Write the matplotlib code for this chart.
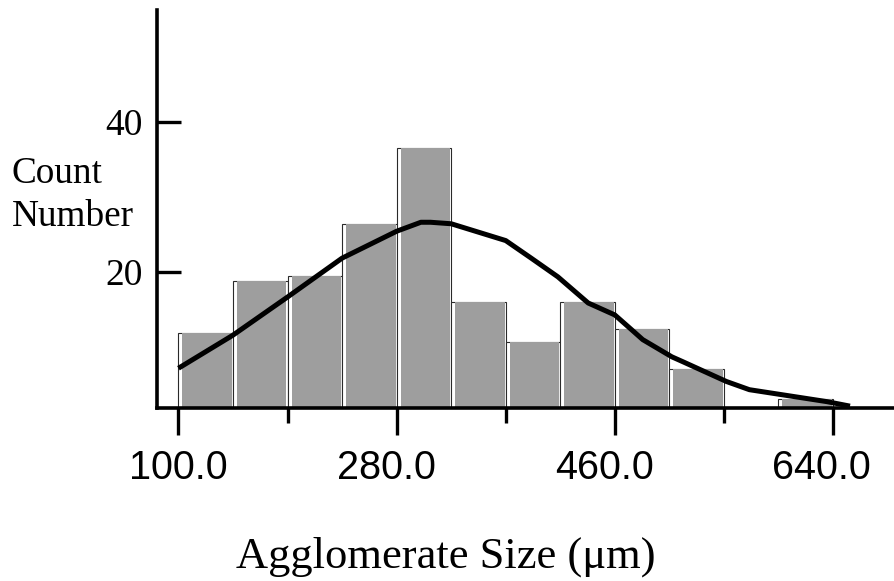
import numpy as np
import matplotlib
matplotlib.use("Agg")
import matplotlib.pyplot as plt
from matplotlib.ticker import FixedLocator
from matplotlib.transforms import ScaledTranslation

# ---- data ----
bin_left = [100, 145, 190, 235, 280, 325, 370, 415, 460, 505, 550, 595]
bin_width = 45
counts = [11.8, 18.8, 19.4, 26.4, 36.6, 15.9, 10.6, 15.9, 12.3, 7.0, 0.0, 2.9]

fit_x = [100, 145, 190, 235, 280, 300, 308, 325, 370, 391, 413, 438, 460,
         474, 483, 507, 516, 552, 571, 599, 635, 654]
fit_y = [7.07, 11.5, 16.6, 21.8, 25.4, 26.6, 26.6, 26.4, 24.15, 21.8, 19.3,
         15.8, 14.2, 12.2, 10.9, 8.6, 7.95, 5.3, 4.2, 3.5, 2.6, 2.0]

x_major = [100, 280, 460, 640]
x_major_labels = ["100.0", "280.0", "460.0", "640.0"]
x_minor = [190, 370, 550]
y_ticks = [20, 40]
y_tick_labels = ["20", "40"]

# ---- figure ----
W, H = 894, 581
fig = plt.figure(figsize=(W / 100, H / 100), dpi=100)
left, right, bottom, top = 157, 894, 408, 10
ax = fig.add_axes([left / W, 1 - bottom / H, (right - left) / W, (bottom - top) / H])

ax.set_xlim(82.3, 690.3)
ax.set_ylim(1.75, 55.0)

# bar outlines (white face, thin dark edge)
ax.bar(bin_left, counts, width=bin_width, align="edge", color="white",
       edgecolor="#2a2a2a", linewidth=0.8, zorder=1)
# gray stippled fill inset from the left edge
inset = 3.3
ax.bar([b + inset for b in bin_left], counts, width=bin_width - inset - 0.9,
       align="edge", color="#9e9e9e", edgecolor="none", linewidth=0, zorder=2)

# fitted curve
ax.plot(fit_x, fit_y, color="black", linewidth=3.6, solid_capstyle="butt",
        solid_joinstyle="round", zorder=3)

# spines
for s in ["top", "right"]:
    ax.spines[s].set_visible(False)
for s in ["left", "bottom"]:
    ax.spines[s].set_linewidth(2.6)
    ax.spines[s].set_color("black")
    ax.spines[s].set_zorder(4)

# x ticks
ax.xaxis.set_major_locator(FixedLocator(x_major))
ax.set_xticklabels(x_major_labels, fontfamily="Liberation Sans", fontsize=28.5)
ax.xaxis.set_minor_locator(FixedLocator(x_minor))
ax.tick_params(axis="x", which="major", direction="out", length=19.5, width=2.4,
               pad=10, color="black")
ax.tick_params(axis="x", which="minor", direction="out", length=10.5, width=2.4,
               color="black")
label_shift_px = [0, -10, -10, -12]
for lab, dx in zip(ax.get_xticklabels(), label_shift_px):
    lab.set_transform(lab.get_transform() + ScaledTranslation(dx / 100, 0, fig.dpi_scale_trans))

# y ticks
ax.set_yticks(y_ticks)
ax.set_yticklabels(y_tick_labels, fontfamily="Liberation Serif", fontsize=27)
ax.tick_params(axis="y", which="major", direction="in", length=17, width=2.4,
               pad=10, color="black")

# labels
fig.text(11.5 / W, 1 - 182.7 / H, "Count", fontfamily="Liberation Serif",
         fontsize=26.8, ha="left", va="baseline")
fig.text(11.5 / W, 1 - 226 / H, "Number", fontfamily="Liberation Serif",
         fontsize=26.8, ha="left", va="baseline")
fig.text(446 / W, 1 - 568 / H, "Agglomerate Size (μm)", fontfamily="Liberation Serif",
         fontsize=32, ha="center", va="baseline")

fig.savefig("out.png", dpi=100)
